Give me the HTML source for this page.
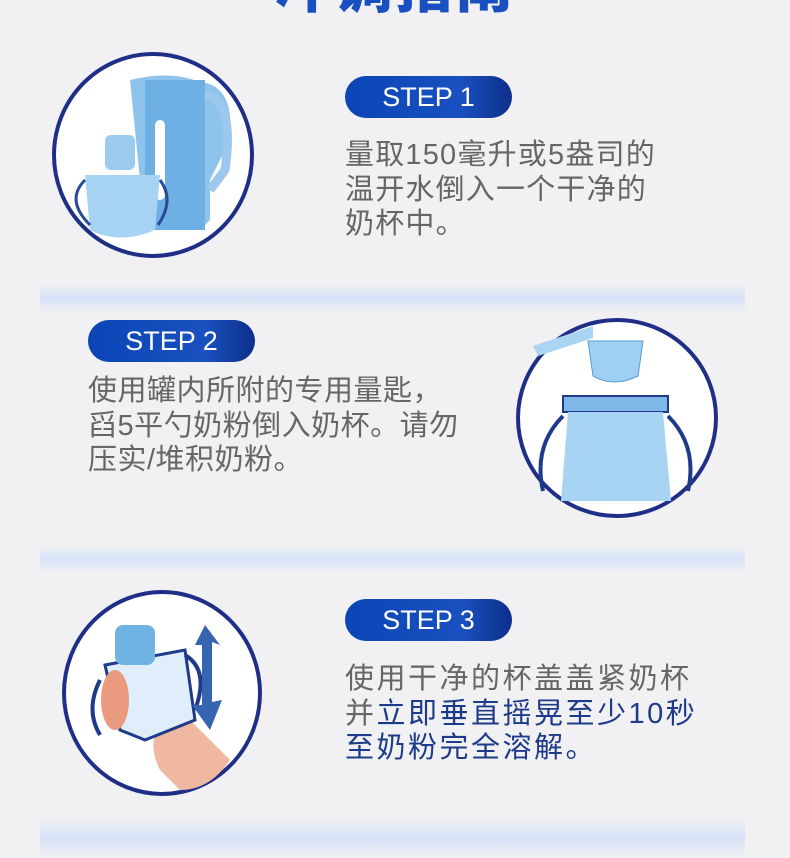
<!DOCTYPE html>
<html><head><meta charset="utf-8"><style>
body{margin:0;width:790px;height:849px;overflow:hidden;background:#f1f1f3;position:relative;font-family:"Liberation Sans","Noto Sans CJK SC",sans-serif}
.t{position:absolute;left:0;width:790px;text-align:center;top:-60px;font-size:58px;font-weight:900;color:#1a4fc0;letter-spacing:2px;font-family:"Noto Sans CJK SC",sans-serif}
.pill{position:absolute;width:167px;height:42px;border-radius:21px;background:linear-gradient(90deg,#0b45b5,#1a50c0 70%,#0d2f8a);color:#fff;font-size:27px;line-height:42px;text-align:center}
.tx{position:absolute;font-size:29px;line-height:34.5px;color:#666;white-space:nowrap;letter-spacing:1.2px}
.b{color:#1e3a8a}
.band{position:absolute;left:40px;width:705px;height:28px;background:linear-gradient(180deg,rgba(200,215,245,0),#d6e2f8 50%,rgba(230,236,248,0))}
svg{position:absolute}
</style></head><body>
<div class="t">冲调指南</div>

<svg style="left:50px;top:50px" width="210" height="212">
<ellipse cx="103" cy="105" rx="99" ry="101" fill="#fff" stroke="#1f2f88" stroke-width="4"/>
<path d="M90 130 L80 30 Q120 20 150 32 Q185 35 180 90 L160 130 L160 170 L150 180 L95 180 Z" fill="#8ec3ec"/>
<rect x="95" y="30" width="60" height="150" fill="#6fb0e4"/>
<rect x="105" y="70" width="10" height="80" rx="5" fill="#fff"/>
<path d="M155 45 Q185 50 175 120 L160 140" fill="none" stroke="#9cc8ee" stroke-width="9"/>
<rect x="55" y="85" width="30" height="35" rx="6" fill="#9ccbf0"/>
<path d="M35 125 L110 125 L105 180 Q70 195 40 180 Z" fill="#a6d2f4"/>
<path d="M35 130 Q15 150 40 175 M110 130 Q125 150 108 175" fill="none" stroke="#2a4a99" stroke-width="3"/>
</svg>
<div class="pill" style="left:345px;top:76px">STEP 1</div>
<div class="tx" style="left:345px;top:138px">量取150毫升或5盎司的<br>温开水倒入一个干净的<br>奶杯中。</div>
<div class="band" style="top:284px"></div>

<div class="pill" style="left:88px;top:320px">STEP 2</div>
<div class="tx" style="left:88px;top:374px;letter-spacing:0.5px">使用罐内所附的专用量匙，<br>舀5平勺奶粉倒入奶杯。请勿<br>压实/堆积奶粉。</div>
<svg style="left:513px;top:316px" width="210" height="206">
<ellipse cx="104" cy="102" rx="99" ry="98" fill="#fff" stroke="#1f2f88" stroke-width="4"/>
<path d="M20 30 L80 10 L80 22 L25 40 Z" fill="#a9d4f2"/>
<path d="M75 25 L130 25 L125 60 Q100 72 80 60 Z" fill="#9dd0f2" stroke="#5a9ad0"/>
<rect x="50" y="80" width="105" height="16" fill="#7fb8e6" stroke="#1f3a8a" stroke-width="2"/>
<path d="M55 96 L150 96 L158 185 L48 185 Z" fill="#a8d4f4"/>
<path d="M50 100 Q20 130 30 175 M155 100 Q185 130 175 175" fill="none" stroke="#1f3a8a" stroke-width="4"/>
</svg>
<div class="band" style="top:545px"></div>

<svg style="left:60px;top:590px" width="210" height="208">
<ellipse cx="102" cy="103" rx="98" ry="101" fill="#fff" stroke="#1f2f88" stroke-width="4"/>
<path d="M100 180 Q80 140 120 120 L170 170 Q150 200 120 200 Z" fill="#f0b8a0"/>
<path d="M45 75 L125 60 L135 130 L85 150 L60 140 Z" fill="#dfeefa" stroke="#1f3a8a" stroke-width="3"/>
<rect x="55" y="35" width="40" height="40" rx="8" fill="#6fb3e2"/>
<path d="M40 90 Q25 120 40 145 M125 65 Q150 80 135 120" fill="none" stroke="#1f3a8a" stroke-width="4"/>
<ellipse cx="55" cy="110" rx="14" ry="30" fill="#e99a7f"/>
<path d="M145 35 L135 55 L142 55 L142 115 L132 115 L150 140 L162 110 L152 112 L152 52 L160 55 Z" fill="#3565b0"/>
</svg>
<div class="pill" style="left:345px;top:599px">STEP 3</div>
<div class="tx" style="left:345px;top:662px;letter-spacing:2.5px">使用干净的杯盖盖紧奶杯<br>并<span class="b">立即垂直摇晃至少10秒<br>至奶粉完全溶解。</span></div>
<div class="band" style="top:818px;height:40px"></div>
</body></html>
